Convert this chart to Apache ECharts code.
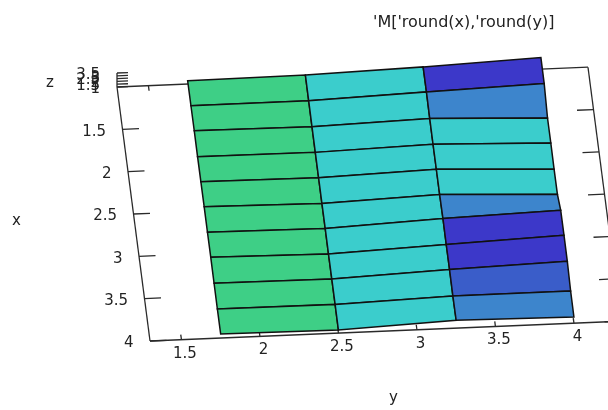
<!DOCTYPE html>
<html>
<head>
<meta charset="utf-8">
<style>html,body{margin:0;padding:0;background:#fff}#c{width:608px;height:410px}</style>
<script src="https://cdn.jsdelivr.net/npm/echarts@6/dist/echarts.min.js"></script>
</head>
<body>
<div id="c"></div>
<script>
// ---- data ----
const titleText = "'M['round(x),'round(y)]";
const xValues = [1, 1.3, 1.6, 1.9, 2.2, 2.5, 2.8, 3.1, 3.4, 3.7, 4];
const yValues = [1.75, 2.5, 3.25, 4];
const zAtY175 = [1.59, 1.66, 1.73, 1.63, 1.70, 1.77, 1.73, 1.80, 1.70, 1.64, 1.71];
const zAtY250 = [1.71, 1.66, 1.55, 1.52, 1.52, 1.48, 1.55, 1.50, 1.57, 1.59, 1.54];
const zAtY325 = [2.29, 2.36, 2.14, 2.09, 2.16, 2.18, 2.43, 2.32, 2.39, 2.21, 2.41];
const zAtY400 = [3.07, 2.96, 1.36, 1.43, 1.27, 1.34, 3.02, 3.09, 2.98, 2.21, 2.11];
const xTicks = ['1.5', '2', '2.5', '3', '3.5', '4'];
const yTicks = ['1.5', '2', '2.5', '3', '3.5', '4'];
const zTicks = ['1', '1.5', '2', '2.5', '3', '3.5'];

// ---- view of the 3D box ----
const yRange = [1.3, 4.3], xRange = [1, 4], zBase = 1;
const G = {left: 117, top: 87, width: 471, height: 254};
const SHEAR_X = 0.13, SHEAR_Y = -0.042, Z_PX = 5.6;
const FONT = '"DejaVu Sans", sans-serif';
const FONT_SIZE = 15;
const paletteStops = [[1.7, '#3ecf86'], [2.02, '#3bcdcc'], [2.3, '#3d85cc'], [2.55, '#3a5dc9'], [9, '#3c38c9']];

const zColumns = [zAtY175, zAtY250, zAtY325, zAtY400];
function colorOf(z) { return paletteStops.find(s => z < s[0])[1]; }
function project(api, y, x, z) {
  const p = api.coord([y, x]);
  return [p[0] + SHEAR_X * (p[1] - G.top), p[1] + SHEAR_Y * (p[0] - G.left) - Z_PX * (z - zBase)];
}

// cells of the surface
const cellData = [];
for (let r = 0; r < xValues.length - 1; r++) for (let c = 0; c < yValues.length - 1; c++) cellData.push([r, c]);

// box edges and ticks: [y0, x0, z0, y1, x1, z1]
const yA = yRange[0], yB = yRange[1], xA = xRange[0], xB = xRange[1];
const segData = [
  [yA, xA, zBase, yB, xA, zBase], [yA, xB, zBase, yB, xB, zBase],
  [yA, xA, zBase, yA, xB, zBase], [yB, xA, zBase, yB, xB, zBase],
  [yA, xA, zBase, yA, xA, +zTicks[zTicks.length - 1]]
];
xTicks.forEach(t => { segData.push([yA, +t, zBase, yA + 0.105, +t, zBase]); segData.push([yB, +t, zBase, yB - 0.105, +t, zBase]); });
yTicks.forEach(t => { segData.push([+t, xB, zBase, +t, xB - 0.06, zBase]); segData.push([+t, xA, zBase, +t, xA + 0.06, zBase]); });
zTicks.forEach(t => { segData.push([yA, xA, +t, yA + 0.07, xA, +t]); });

function textEl(px, py, text, align) {
  return {type: 'text', x: px, y: py, silent: true,
    style: {text: text, fill: '#222', font: FONT_SIZE + 'px ' + FONT, textAlign: align, textVerticalAlign: 'middle'}};
}

const labelData = [];
xTicks.forEach(t => labelData.push(['x', t]));
yTicks.forEach(t => labelData.push(['y', t]));
zTicks.forEach(t => labelData.push(['z', t]));

const chart = echarts.init(document.getElementById('c'));
chart.setOption({
  animation: false,
  backgroundColor: '#fff',
  title: {text: titleText, left: 368, top: 10, textStyle: {fontFamily: FONT, fontSize: 16, fontWeight: 'normal', color: '#222'}},
  grid: {left: G.left, top: G.top, width: G.width, height: G.height},
  xAxis: {type: 'value', min: yRange[0], max: yRange[1], show: false, name: 'y'},
  yAxis: {type: 'value', min: xRange[0], max: xRange[1], inverse: true, show: false, name: 'x'},
  graphic: [
    {type: 'text', left: 46, top: 76, style: {text: 'z', fill: '#222', font: FONT_SIZE + 'px ' + FONT}},
    {type: 'text', left: 12, top: 214, style: {text: 'x', fill: '#222', font: FONT_SIZE + 'px ' + FONT}},
    {type: 'text', left: 389, top: 391, style: {text: 'y', fill: '#222', font: FONT_SIZE + 'px ' + FONT}}
  ],
  series: [
    {
      type: 'custom', coordinateSystem: 'cartesian2d', silent: true, clip: false, z: 1,
      data: segData, encode: {x: 0, y: 1},
      renderItem(params, api) {
        const s = segData[params.dataIndex];
        const a = project(api, s[0], s[1], s[2]), b = project(api, s[3], s[4], s[5]);
        return {type: 'line', shape: {x1: a[0], y1: a[1], x2: b[0], y2: b[1]}, style: {stroke: '#2a2a2a', lineWidth: 1.3}};
      }
    },
    {
      type: 'custom', coordinateSystem: 'cartesian2d', silent: true, clip: false, z: 2,
      data: cellData, encode: {x: 1, y: 0},
      renderItem(params, api) {
        const [r, c] = cellData[params.dataIndex];
        const corners = [[r, c], [r, c + 1], [r + 1, c + 1], [r + 1, c]];
        let sum = 0;
        const pts = corners.map(([i, j]) => {
          const z = zColumns[j][i];
          sum += z;
          return project(api, yValues[j], xValues[i], z);
        });
        return {type: 'polygon', shape: {points: pts}, style: {fill: colorOf(sum / 4), stroke: '#111', lineWidth: 1.5}};
      }
    },
    {
      type: 'custom', coordinateSystem: 'cartesian2d', silent: true, clip: false, z: 3,
      data: labelData, encode: {x: 0},
      renderItem(params, api) {
        const [axis, t] = labelData[params.dataIndex];
        if (axis === 'x') {
          const p = project(api, yA, +t, zBase);
          return textEl(p[0] - 16.5, p[1] + 2.5, t, 'right');
        }
        if (axis === 'y') {
          const p = project(api, +t, xB, zBase);
          return textEl(p[0] + 3.5, p[1] + 14, t, 'center');
        }
        const p = project(api, yA, xA, +t);
        return textEl(p[0] - 17, p[1] + 2, t, 'right');
      }
    }
  ]
});
</script>
</body>
</html>
